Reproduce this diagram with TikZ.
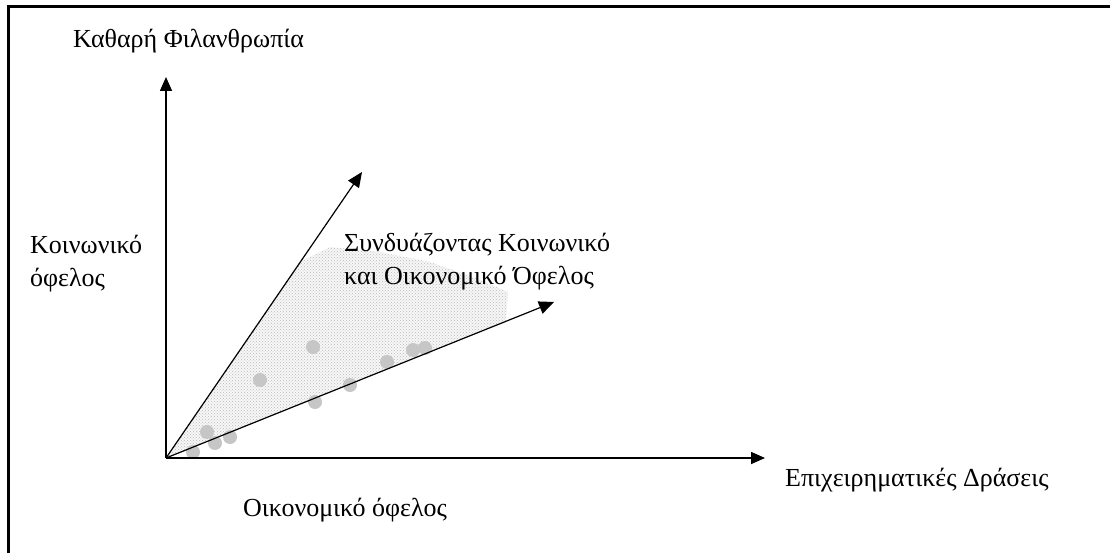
\documentclass[tikz,border=0pt]{standalone}
\usepackage{fontspec}
\setmainfont{Liberation Serif}
\usetikzlibrary{arrows.meta,patterns}
\begin{document}
\begin{tikzpicture}[x=1pt,y=-1pt,
  axis/.style={line width=1.6pt,-{Triangle[length=14pt,width=12pt]}},
  ray/.style={line width=1.2pt,-{Triangle[length=15pt,width=13pt]}},
  lbl/.style={font=\fontsize{26}{33}\selectfont,inner sep=0pt,align=left},
  blob/.style={fill=gray!45,draw=none}]
\useasboundingbox (0,0) rectangle (1110,553);
\fill[white] (0,0) rectangle (1110,553);
% frame
\draw[line width=2.5pt] (8.5,553) -- (8.5,6.5) -- (1110,6.5);
% coordinates
\coordinate (O) at (166,458);
\coordinate (Y) at (166,77);
\coordinate (X) at (765,458);
\coordinate (U) at (362,172);
\coordinate (L) at (554,302);
% shaded region
\fill[gray!6] (O) -- (300,262) -- (330,247) -- (380,252) -- (430,262) -- (475,278) -- (508,292) -- (506,321) -- cycle;
\fill[pattern=crosshatch dots, pattern color=gray!55]
  (O) -- (300,262) -- (330,247) -- (380,252) -- (430,262) -- (475,278) -- (508,292) -- (506,321) -- cycle;
\foreach \p in {(193,452),(207,432),(215,443),(230,437),(260,380),(313,347),(315,402),(350,385),(387,362),(413,350),(425,348)}
  \fill[blob] \p circle (7);
% axes
\draw[axis] (O) -- (Y);
\draw[axis] (O) -- (X);
\draw[ray] (O) -- (U);
\draw[ray] (O) -- (L);
% labels
\node[lbl,anchor=west] (t1) at (73,41) {Καθαρή Φιλανθρωπία};
\node[lbl,anchor=west] (t2) at (30,264) {Κοινωνικό\\όφελος};
\node[lbl,anchor=west] (t3) at (344,262) {Συνδυάζοντας Κοινωνικό\\και Οικονομικό Όφελος};
\node[lbl,anchor=west] (t4) at (785,480) {Επιχειρηματικές Δράσεις};
\node[lbl,anchor=west] (t5) at (243,510) {Οικονομικό όφελος};
\end{tikzpicture}
\end{document}
